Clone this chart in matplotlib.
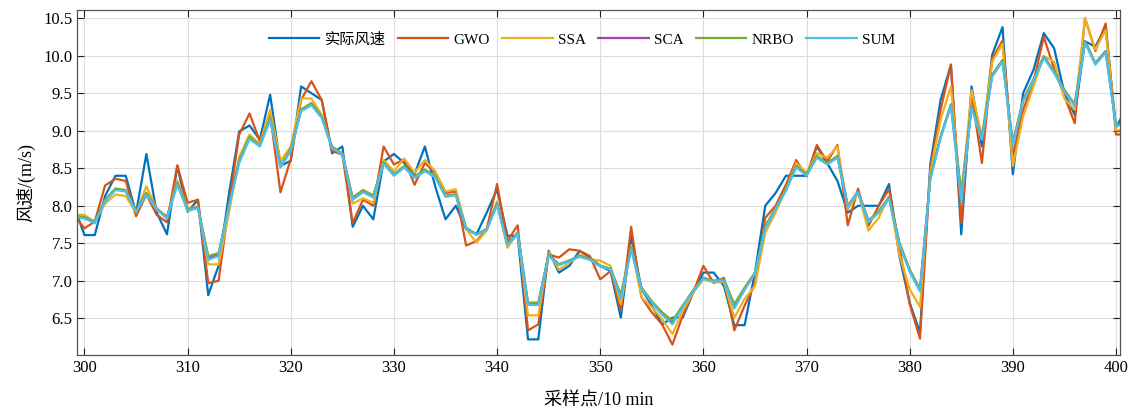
import numpy as np
import matplotlib
matplotlib.use('Agg')
import matplotlib.pyplot as plt

plt.rcParams['font.family'] = ['Liberation Serif', 'Noto Sans CJK SC']
plt.rcParams['axes.unicode_minus'] = False

# sampling points (one point past each end, clipped by xlim)
x = np.arange(299, 402)

actual = [7.99, 7.61, 7.61, 8.13, 8.40, 8.40, 7.90, 8.69, 7.91, 7.62,
          8.53, 7.92, 8.08, 6.81, 7.20, 8.15, 8.99, 9.07, 8.88, 9.48,
          8.53, 8.60, 9.59, 9.50, 9.41, 8.70, 8.79, 7.72, 8.00, 7.82,
          8.59, 8.69, 8.57, 8.42, 8.79, 8.26, 7.82, 8.00, 7.69, 7.62,
          7.91, 8.22, 7.60, 7.60, 6.22, 6.22, 7.40, 7.11, 7.20, 7.40,
          7.31, 7.20, 7.13, 6.51, 7.60, 6.89, 6.67, 6.42, 6.51, 6.51,
          6.84, 7.11, 7.11, 6.93, 6.41, 6.41, 7.11, 8.00, 8.17, 8.40,
          8.40, 8.40, 8.79, 8.57, 8.33, 7.91, 8.00, 8.00, 8.00, 8.29,
          7.33, 6.71, 6.31, 8.55, 9.41, 9.88, 7.62, 9.59, 8.79, 10.01,
          10.38, 8.42, 9.50, 9.81, 10.30, 10.10, 9.50, 9.21, 10.19, 10.12,
          10.38, 9.04, 9.30]

gwo = [7.87, 7.70, 7.79, 8.27, 8.36, 8.33, 7.86, 8.15, 7.88, 7.78,
       8.54, 8.04, 8.08, 6.97, 7.00, 8.00, 8.95, 9.23, 8.86, 9.22,
       8.18, 8.62, 9.41, 9.66, 9.41, 8.73, 8.68, 7.77, 8.08, 8.00,
       8.79, 8.55, 8.62, 8.28, 8.57, 8.44, 8.17, 8.19, 7.47, 7.53,
       7.69, 8.29, 7.53, 7.74, 6.34, 6.42, 7.35, 7.31, 7.42, 7.40,
       7.33, 7.02, 7.13, 6.60, 7.72, 6.78, 6.58, 6.42, 6.15, 6.54,
       6.84, 7.20, 6.97, 7.04, 6.34, 6.67, 6.96, 7.84, 8.00, 8.28,
       8.61, 8.39, 8.81, 8.59, 8.81, 7.74, 8.23, 7.73, 8.00, 8.22,
       7.46, 6.69, 6.23, 8.48, 9.28, 9.88, 7.77, 9.50, 8.57, 9.96,
       10.20, 8.66, 9.28, 9.65, 10.25, 9.83, 9.46, 9.10, 10.50, 10.06,
       10.43, 8.95, 8.95]

ssa = [7.88, 7.88, 7.78, 8.03, 8.15, 8.13, 7.91, 8.26, 7.96, 7.85,
       8.34, 7.97, 7.98, 7.22, 7.22, 7.90, 8.65, 8.95, 8.82, 9.28,
       8.60, 8.79, 9.43, 9.43, 9.21, 8.77, 8.70, 8.03, 8.10, 8.04,
       8.61, 8.46, 8.63, 8.44, 8.61, 8.46, 8.19, 8.22, 7.69, 7.51,
       7.67, 8.06, 7.44, 7.64, 6.54, 6.54, 7.38, 7.15, 7.24, 7.35,
       7.29, 7.27, 7.20, 6.69, 7.46, 6.78, 6.65, 6.49, 6.29, 6.60,
       6.84, 7.02, 6.98, 6.98, 6.51, 6.76, 6.93, 7.64, 7.91, 8.22,
       8.57, 8.44, 8.70, 8.64, 8.79, 7.95, 8.17, 7.67, 7.84, 8.13,
       7.35, 6.89, 6.65, 8.44, 9.15, 9.59, 8.08, 9.54, 8.92, 9.92,
       10.16, 8.53, 9.19, 9.59, 9.99, 9.92, 9.43, 9.28, 10.50, 10.08,
       10.34, 9.01, 9.00]

sca = [7.86, 7.84, 7.79, 8.07, 8.22, 8.20, 7.93, 8.17, 7.96, 7.85,
       8.30, 7.95, 7.98, 7.31, 7.35, 8.00, 8.60, 8.91, 8.80, 9.16,
       8.53, 8.75, 9.28, 9.36, 9.18, 8.78, 8.69, 8.10, 8.20, 8.13,
       8.57, 8.41, 8.52, 8.38, 8.48, 8.39, 8.13, 8.15, 7.70, 7.62,
       7.69, 8.03, 7.49, 7.64, 6.70, 6.70, 7.35, 7.22, 7.27, 7.33,
       7.29, 7.20, 7.16, 6.80, 7.44, 6.90, 6.72, 6.57, 6.45, 6.66,
       6.87, 7.04, 7.00, 7.01, 6.67, 6.90, 7.10, 7.72, 7.96, 8.21,
       8.53, 8.41, 8.66, 8.57, 8.66, 8.00, 8.19, 7.80, 7.92, 8.11,
       7.51, 7.14, 6.88, 8.37, 8.92, 9.35, 8.15, 9.32, 8.90, 9.74,
       9.94, 8.83, 9.41, 9.68, 9.99, 9.79, 9.54, 9.35, 10.19, 9.90,
       10.06, 9.08, 9.10]

nrbo = [7.86, 7.85, 7.79, 8.08, 8.23, 8.21, 7.93, 8.17, 7.96, 7.85,
        8.30, 7.95, 7.98, 7.33, 7.37, 8.00, 8.60, 8.92, 8.80, 9.17,
        8.53, 8.75, 9.28, 9.37, 9.19, 8.79, 8.69, 8.11, 8.21, 8.14,
        8.58, 8.42, 8.53, 8.39, 8.48, 8.40, 8.13, 8.15, 7.71, 7.62,
        7.69, 8.03, 7.49, 7.64, 6.71, 6.71, 7.35, 7.22, 7.27, 7.33,
        7.29, 7.20, 7.16, 6.82, 7.44, 6.91, 6.73, 6.58, 6.47, 6.67,
        6.87, 7.04, 7.00, 7.02, 6.69, 6.91, 7.11, 7.73, 7.97, 8.22,
        8.53, 8.42, 8.66, 8.57, 8.66, 8.00, 8.19, 7.80, 7.93, 8.11,
        7.51, 7.15, 6.89, 8.37, 8.92, 9.35, 8.17, 9.32, 8.90, 9.74,
        9.94, 8.84, 9.41, 9.68, 9.99, 9.79, 9.54, 9.35, 10.19, 9.90,
        10.06, 9.08, 9.10]

sum_ = [7.85, 7.83, 7.77, 8.06, 8.21, 8.19, 7.92, 8.15, 7.95, 7.83,
        8.28, 7.93, 7.97, 7.28, 7.33, 7.98, 8.57, 8.89, 8.79, 9.14,
        8.51, 8.73, 9.26, 9.34, 9.17, 8.77, 8.68, 8.08, 8.18, 8.11,
        8.56, 8.40, 8.51, 8.37, 8.46, 8.38, 8.12, 8.14, 7.70, 7.61,
        7.68, 8.01, 7.48, 7.62, 6.68, 6.68, 7.33, 7.21, 7.26, 7.32,
        7.28, 7.19, 7.15, 6.76, 7.42, 6.89, 6.71, 6.55, 6.42, 6.65,
        6.86, 7.03, 6.99, 7.00, 6.63, 6.88, 7.09, 7.70, 7.95, 8.20,
        8.51, 8.40, 8.64, 8.55, 8.64, 7.99, 8.18, 7.78, 7.91, 8.09,
        7.49, 7.12, 6.86, 8.35, 8.90, 9.33, 8.05, 9.30, 8.88, 9.72,
        9.92, 8.80, 9.39, 9.66, 9.97, 9.77, 9.52, 9.33, 10.17, 9.88,
        10.04, 9.06, 9.09]

labels = ['实际风速', 'GWO', 'SSA', 'SCA', 'NRBO', 'SUM']
colors = ['#0072BD', '#D95319', '#EDB120', '#9B45B0', '#77AC30', '#4DBEEE']
series = [actual, gwo, ssa, sca, nrbo, sum_]

fig = plt.figure(figsize=(11.36, 4.12), dpi=100)
ax = fig.add_axes([0.068, 0.138, 0.918, 0.838])

for y, c, lab in zip(series, colors, labels):
    ax.plot(x, y, color=c, lw=1.6, label=lab)

ax.set_xlim(299.3, 400.4)
ax.set_ylim(6.01, 10.61)
ax.set_xticks(np.arange(300, 401, 10))
ax.set_yticks(np.arange(6.5, 10.51, 0.5))
ax.set_yticklabels(['%.1f' % v for v in np.arange(6.5, 10.51, 0.5)])

# matlab-ish box with inward ticks on all sides
ax.grid(True, color='#dddddd', lw=0.8)
ax.set_axisbelow(True)
ax.tick_params(direction='in', top=True, right=True, length=5,
               labelsize=12, color='#222222')
for s in ax.spines.values():
    s.set_color('#555555')
    s.set_linewidth(0.9)

ax.set_xlabel('采样点/10 min', fontsize=13, labelpad=12)
ax.set_ylabel('风速/(m/s)', fontsize=13, labelpad=6)

leg = ax.legend(loc='upper center', bbox_to_anchor=(0.484, 0.975), ncol=6,
                frameon=False, fontsize=11, handlelength=3.3,
                columnspacing=0.8, handletextpad=0.35)

fig.savefig('out.png', dpi=100)
